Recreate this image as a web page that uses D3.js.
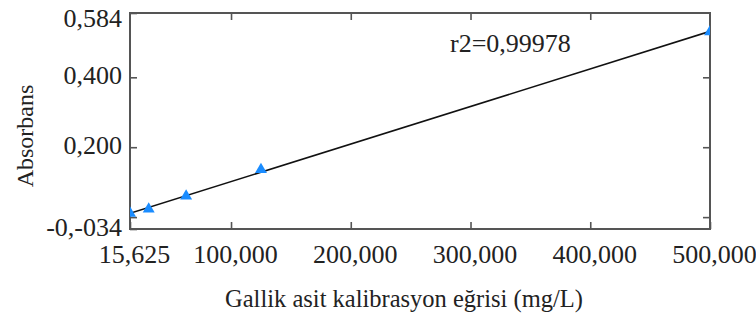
<!DOCTYPE html>
<html>
<head>
<meta charset="utf-8">
<script src="https://cdn.jsdelivr.net/npm/d3@7"></script>
<style>
  html, body { margin: 0; background: #fff; }
  svg { display: block; }
  text { font-family: "Liberation Serif", "Times New Roman", serif; fill: #222; }
</style>
</head>
<body>
<svg id="chart" width="756" height="320"></svg>
<script>
// Gallic acid calibration: concentration (mg/L) vs absorbance
const concentrations = [15.625, 31.25, 62.5, 125, 500];
const absorbances = [0.011, 0.023, 0.060, 0.136, 0.530];

const xTickValues = [15.625, 100, 200, 300, 400, 500];
const xTickLabels = ["15,625", "100,000", "200,000", "300,000", "400,000", "500,000"];
const yTickValues = [-0.034, 0, 0.2, 0.4, 0.584];
const yTickLabels = ["-0,-034", "", "0,200", "0,400", "0,584"];

const r2Text = "r2=0,99978";
const xTitle = "Gallik asit kalibrasyon eğrisi (mg/L)";
const yTitle = "Absorbans";

const W = 756, H = 320;
const plot = { left: 130, right: 710, top: 13, bottom: 229 };
const frameColor = "#555";

const svg = d3.select("#chart");
svg.append("rect").attr("width", W).attr("height", H).attr("fill", "#fff");

const x = d3.scaleLinear().domain([15.625, 500]).range([plot.left, plot.right]);
const y = d3.scaleLinear().domain([-0.034, 0.584]).range([plot.bottom, plot.top]);

const xLabel = d => xTickLabels[xTickValues.indexOf(d)];
const yLabel = d => yTickLabels[yTickValues.indexOf(d)];

function styleAxis(g) {
  g.select(".domain").remove();
  g.selectAll(".tick line").attr("stroke", frameColor).attr("stroke-width", 1.6);
  g.selectAll(".tick text")
    .style("font-family", '"Liberation Serif", "Times New Roman", serif')
    .attr("fill", "#222");
}

// bottom axis with labels, ticks pointing inward
svg.append("g")
  .attr("transform", `translate(0,${plot.bottom})`)
  .call(d3.axisBottom(x).tickValues(xTickValues).tickFormat(xLabel).tickSize(-7).tickPadding(16))
  .call(styleAxis)
  .call(g => g.selectAll(".tick text").attr("font-size", 26).attr("dx", 4));

// top axis, ticks only
svg.append("g")
  .attr("transform", `translate(0,${plot.top})`)
  .call(d3.axisTop(x).tickValues(xTickValues.slice(1, -1)).tickFormat("").tickSize(-7))
  .call(styleAxis);

// left axis with labels
svg.append("g")
  .attr("transform", `translate(${plot.left},0)`)
  .call(d3.axisLeft(y).tickValues(yTickValues).tickFormat(yLabel).tickSize(-7).tickPadding(8))
  .call(styleAxis)
  .call(g => g.selectAll(".tick text").attr("font-size", 26).attr("dy", "0.25em"))
  .call(g => g.selectAll(".tick").filter(d => d === 0.584).select("text").attr("dy", "0.5em"));

// right axis, ticks only
svg.append("g")
  .attr("transform", `translate(${plot.right},0)`)
  .call(d3.axisRight(y).tickValues(yTickValues.slice(1, -1)).tickFormat("").tickSize(-7))
  .call(styleAxis);

// plot frame
svg.append("rect")
  .attr("x", plot.left).attr("y", plot.top)
  .attr("width", plot.right - plot.left).attr("height", plot.bottom - plot.top)
  .attr("fill", "none").attr("stroke", frameColor).attr("stroke-width", 2);

// clip marks to the frame
svg.append("clipPath").attr("id", "plot-clip")
  .append("rect")
  .attr("x", plot.left).attr("y", plot.top)
  .attr("width", plot.right - plot.left).attr("height", plot.bottom - plot.top);

const marks = svg.append("g").attr("clip-path", "url(#plot-clip)");

// least-squares calibration line
const mx = d3.mean(concentrations), my = d3.mean(absorbances);
const sxy = d3.sum(concentrations, (c, i) => (c - mx) * (absorbances[i] - my));
const sxx = d3.sum(concentrations, c => (c - mx) * (c - mx));
const slope = sxy / sxx, intercept = my - slope * mx;
const fitX = [15.625, 500];

marks.append("path")
  .datum(fitX)
  .attr("d", d3.line().x(d => x(d)).y(d => y(intercept + slope * d)))
  .attr("fill", "none").attr("stroke", "#111").attr("stroke-width", 1.6);

// measured points
marks.selectAll(".pt")
  .data(concentrations.map((c, i) => [c, absorbances[i]]))
  .join("path")
  .attr("class", "pt")
  .attr("transform", d => `translate(${x(d[0])},${y(d[1])})`)
  .attr("d", d3.symbol(d3.symbolTriangle).size(62))
  .attr("fill", "#1a8cff");

// r² annotation
svg.append("text")
  .attr("x", 450).attr("y", 52)
  .attr("font-size", 26)
  .text(r2Text);

// axis titles
svg.append("text")
  .attr("x", 404).attr("y", 307)
  .attr("text-anchor", "middle")
  .attr("font-size", 24.5)
  .text(xTitle);

svg.append("text")
  .attr("transform", "translate(33,136) rotate(-90)")
  .attr("text-anchor", "middle")
  .attr("font-size", 24)
  .text(yTitle);
</script>
</body>
</html>
